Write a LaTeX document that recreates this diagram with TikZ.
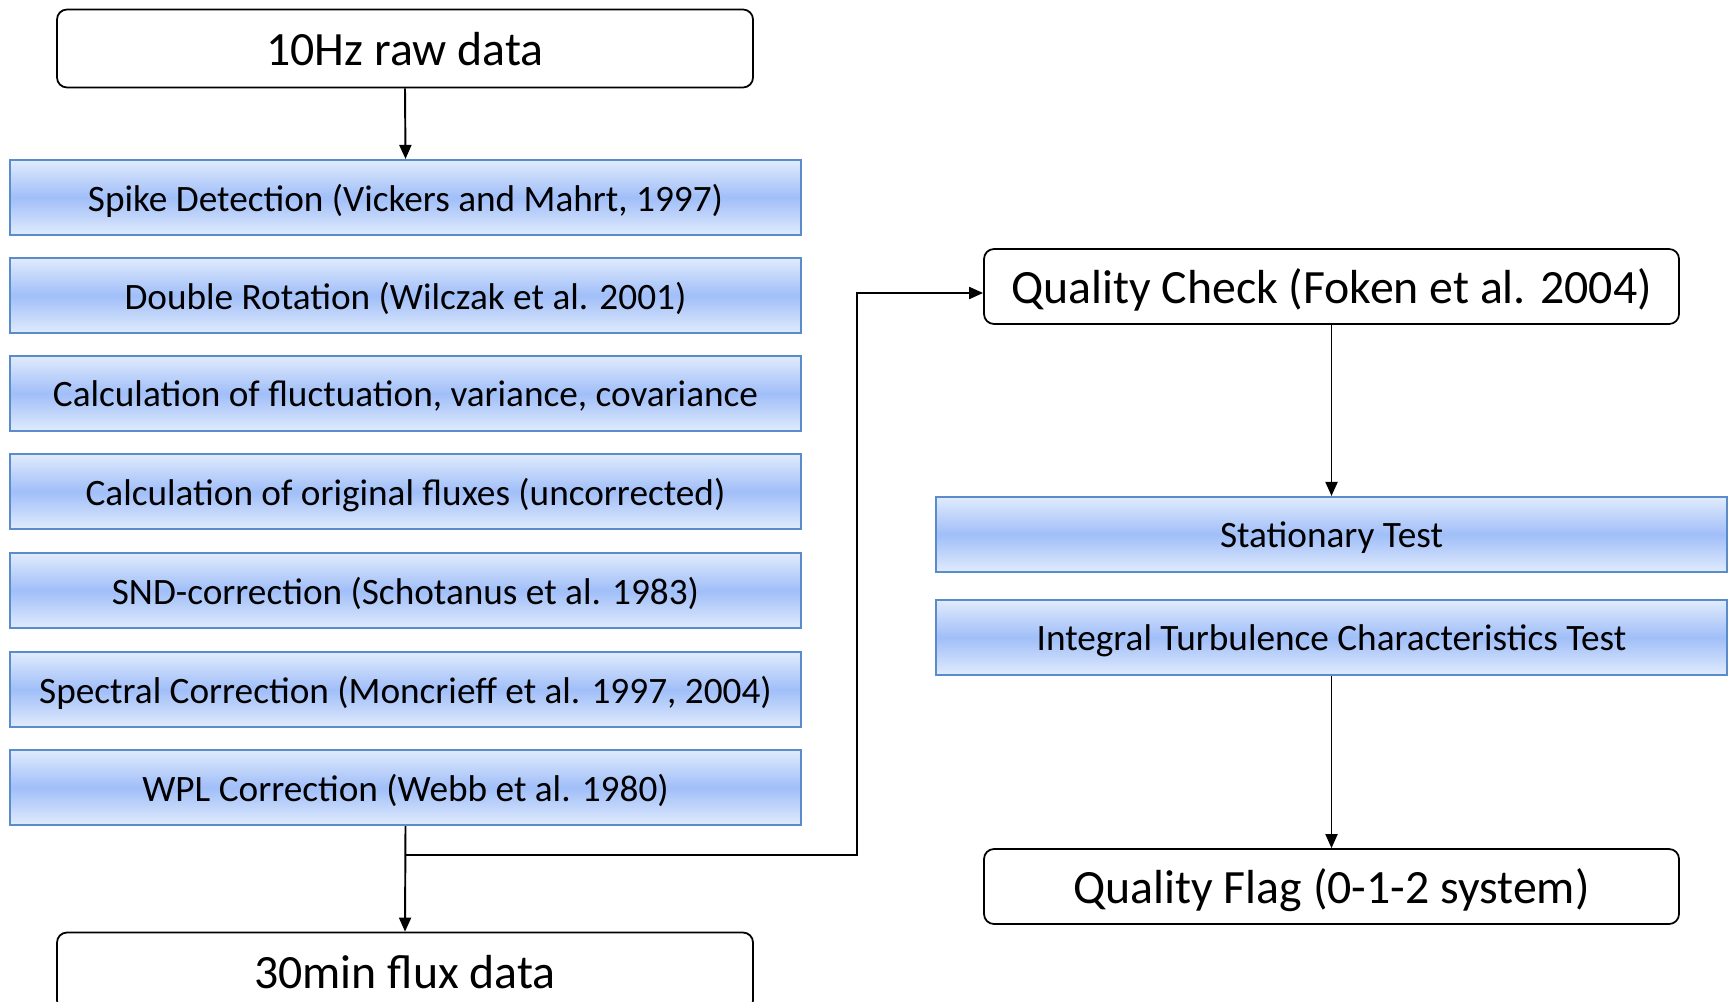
\documentclass[tikz,border=0pt]{standalone}
\usepackage{fontspec}
\setmainfont{Carlito}
\usetikzlibrary{arrows.meta,positioning}

\definecolor{bandlight}{HTML}{E0EBFD}
\definecolor{bandmid}{HTML}{A0BEF8}
\definecolor{bandedge}{HTML}{5A8BCB}

\begin{document}
\begin{tikzpicture}[
    stepbar/.style={draw=bandedge, line width=0.6pt, rectangle, minimum width=7.91cm, minimum height=0.75cm, text depth=0pt,
        top color=bandlight, bottom color=bandlight, middle color=bandmid, font=\fontsize{10.6pt}{13pt}\selectfont},
    databox/.style={draw, line width=0.5pt, rectangle, rounded corners=0.1cm, minimum width=6.96cm, minimum height=0.78cm,
        text depth=0pt, font=\fontsize{13.6pt}{16pt}\selectfont},
    link/.style={line width=0.55pt, -{Triangle[length=0.14cm,width=0.12cm]}}
]
    \clip (0,0) rectangle (17.29,-10.02);
    \useasboundingbox (0,0) rectangle (17.29,-10.02);

    % --- Flux processing chain ---
    \node[databox] (raw) at (4.05, -0.485) {10Hz raw data};

    \node[stepbar] (spike) at (4.055, -1.975) {Spike Detection (Vickers and Mahrt, 1997)};
    \node[stepbar] (rot)   at (4.055, -2.955) {Double Rotation (Wilczak et al. 2001)};
    \node[stepbar] (cov)   at (4.055, -3.935) {Calculation of fluctuation, variance, covariance};
    \node[stepbar] (orig)  at (4.055, -4.915) {Calculation of original fluxes (uncorrected)};
    \node[stepbar] (snd)   at (4.055, -5.905) {SND-correction (Schotanus et al. 1983)};
    \node[stepbar] (spec)  at (4.055, -6.895) {Spectral Correction (Moncrieff et al. 1997, 2004)};
    \node[stepbar] (wpl)   at (4.055, -7.875) {WPL Correction (Webb et al. 1980)};

    \node[databox] (flux) at (4.05, -9.715) {30min flux data};

    % --- Quality control chain ---
    \node[databox, minimum width=6.95cm, minimum height=0.75cm] (qc) at (13.315, -2.865) {Quality Check (Foken et al. 2004)};

    \node[stepbar] (stat) at (13.315, -5.345) {Stationary Test};
    \node[stepbar] (itc)  at (13.315, -6.375) {Integral Turbulence Characteristics Test};

    \node[databox, minimum width=6.95cm, minimum height=0.75cm] (flag) at (13.315, -8.865) {Quality Flag (0-1-2 system)};

    % Connectors
    \draw[link] (raw.south) -- (spike.north);
    \draw[link] (wpl.south) -- (flux.north);

    \coordinate (split) at (4.055, -8.55);
    \coordinate (turn) at (8.57, -8.55);
    \draw[link] (split) -- (turn) |- ([yshift=-0.065cm]qc.west);

    \draw[link] (qc.south) -- (stat.north);
    \draw[link] (itc.south) -- (flag.north);

\end{tikzpicture}
\end{document}
